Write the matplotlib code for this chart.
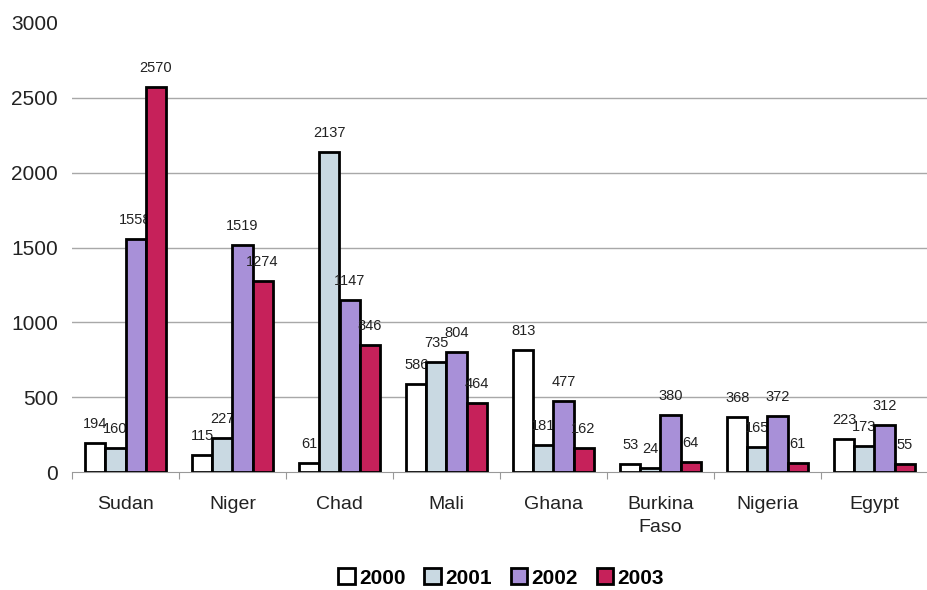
import matplotlib
matplotlib.use("Agg")
import matplotlib.pyplot as plt
import numpy as np
from matplotlib.patches import Patch

plt.rcParams['font.family'] = ['Liberation Sans', 'DejaVu Sans']

categories = ["Sudan", "Niger", "Chad", "Mali", "Ghana", "Burkina\nFaso", "Nigeria", "Egypt"]
years = ["2000", "2001", "2002", "2003"]
v2000 = [194, 115, 61, 586, 813, 53, 368, 223]
v2001 = [160, 227, 2137, 735, 181, 24, 165, 173]
v2002 = [1558, 1519, 1147, 804, 477, 380, 372, 312]
v2003 = [2570, 1274, 846, 464, 162, 64, 61, 55]
series = [v2000, v2001, v2002, v2003]
colors = ["#ffffff", "#c9d9e2", "#a890d8", "#c6215a"]

fig = plt.figure(figsize=(9.28, 5.9), dpi=100)
ax = fig.add_axes([72/928, 118/590, 1 - 72/928, (472-23)/590])

x = np.arange(len(categories))
w = 0.187
for i, (vals, c) in enumerate(zip(series, colors)):
    pos = x + (i - 1.5) * w
    ax.bar(pos, vals, width=w, color=c, edgecolor="black", linewidth=2, zorder=2 + 2 * i)
    for p, v in zip(pos, vals):
        ax.text(p, v + 80, str(v), ha="center", va="bottom", fontsize=10.5,
                color="#222222", zorder=3 + 2 * i)

ax.set_xlim(-0.5, len(categories) - 0.5)
ax.set_ylim(0, 3000)
ax.set_yticks(np.arange(0, 3001, 500))
for yv in range(500, 3000, 500):
    ax.axhline(yv, color="#a8a8a8", linewidth=1, zorder=1)
for s in ["top", "right", "left"]:
    ax.spines[s].set_visible(False)
ax.spines["bottom"].set_color("#999999")
ax.set_xticks(np.arange(-0.5, len(categories)), minor=False)
ax.set_xticklabels([])
ax.tick_params(axis="x", which="major", length=5, color="#999999", direction="out")
ax.set_xticks(x, minor=True)
ax.set_xticklabels(categories, minor=True, fontsize=14, color="#222222", linespacing=1.5)
ax.tick_params(axis="x", which="minor", length=0, pad=17)
ax.tick_params(axis="y", length=0, labelsize=15, pad=10, labelcolor="#222222")

handles = [Patch(facecolor=c, edgecolor="black", linewidth=2) for c in colors]
fig.legend(handles, years, loc="center", bbox_to_anchor=(0.54, 1 - 578/590), ncol=4,
           frameon=False, prop={"weight": "bold", "size": 15}, handlelength=0.8,
           handleheight=0.8, handletextpad=0.2, columnspacing=0.9)

fig.savefig("out.png", dpi=100)
